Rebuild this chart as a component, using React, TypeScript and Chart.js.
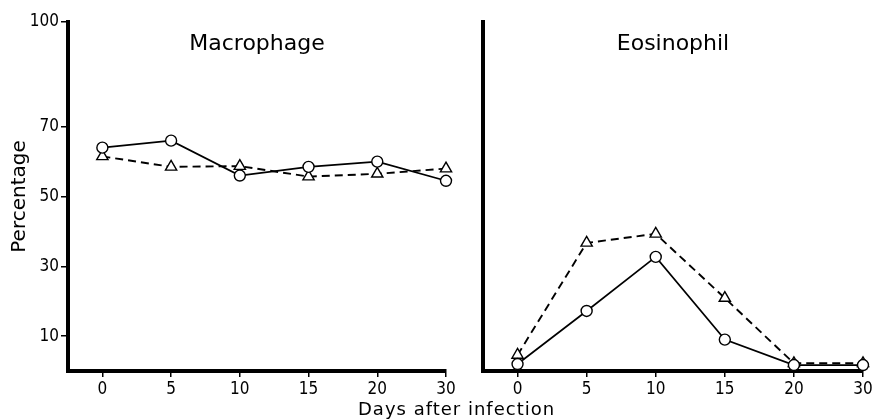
import React, { useEffect, useRef } from "react";
import { Chart, registerables } from "chart.js";

Chart.register(...registerables);

const dayLabels = ["0", "5", "10", "15", "20", "30"];
const yTickValues = [10, 30, 50, 70, 100];

const macrophageCircle = [64, 66, 56, 58.5, 60, 54.5];
const macrophageTriangle = [61.5, 58.5, 58.7, 55.7, 56.5, 58];
const eosinophilCircle = [2, 17.2, 32.7, 9, 1.7, 1.7];
const eosinophilTriangle = [4.6, 36.7, 39.3, 20.9, 2.2, 2.2];

const tickFont = {
  family: "'Liberation Sans Narrow','DejaVu Sans Condensed',sans-serif",
  size: 17,
};
const textFont = "'DejaVu Sans', sans-serif";

const panelTitlePlugin = {
  id: "panelTitle",
  afterDraw(chart: any, _args: any, opts: any) {
    if (!opts || !opts.text) return;
    const { ctx, chartArea } = chart;
    ctx.save();
    ctx.fillStyle = "#000";
    ctx.font = `22px ${textFont}`;
    ctx.textAlign = "center";
    ctx.textBaseline = "middle";
    ctx.fillText(opts.text, (chartArea.left + chartArea.right) / 2, 44);
    ctx.restore();
  },
};

function makeDatasets(circle: number[], triangle: number[]) {
  return [
    {
      label: "circle",
      data: circle.map((v, i) => ({ x: i, y: v })),
      borderColor: "#000",
      borderWidth: 1.7,
      pointStyle: "circle",
      pointRadius: 5.5,
      pointBorderWidth: 1.4,
      pointBackgroundColor: "#fff",
      pointBorderColor: "#000",
      clip: false,
      order: 1,
    },
    {
      label: "triangle",
      data: triangle.map((v, i) => ({ x: i, y: v })),
      borderColor: "#000",
      borderWidth: 1.9,
      borderDash: [8, 5],
      pointStyle: "triangle",
      pointRadius: 6.5,
      pointBorderWidth: 1.4,
      pointBackgroundColor: "#fff",
      pointBorderColor: "#000",
      clip: false,
      order: 2,
    },
  ];
}

function makeConfig(
  title: string,
  circle: number[],
  triangle: number[],
  showY: boolean,
  yWidth: number,
  padRight: number
): any {
  return {
    type: "line",
    data: { datasets: makeDatasets(circle, triangle) },
    plugins: [panelTitlePlugin],
    options: {
      animation: false,
      responsive: false,
      layout: { padding: { left: 0, right: padRight, top: 22, bottom: 0 } },
      plugins: {
        legend: { display: false },
        tooltip: { enabled: false },
        panelTitle: { text: title },
      },
      scales: {
        x: {
          type: "linear",
          min: -0.5,
          max: 5,
          afterBuildTicks: (scale: any) => {
            scale.ticks = dayLabels.map((_, i) => ({ value: i }));
          },
          afterFit: (scale: any) => {
            scale.height = 49;
          },
          ticks: {
            color: "#000",
            font: tickFont,
            padding: 2,
            maxRotation: 0,
            autoSkip: false,
            callback: (v: number) => dayLabels[v] ?? "",
          },
          grid: {
            display: true,
            drawOnChartArea: false,
            drawTicks: true,
            tickLength: 6,
            color: "#000",
            lineWidth: 1.5,
          },
          border: { display: true, color: "#000", width: 4 },
        },
        y: {
          type: "linear",
          min: 0,
          max: 100,
          afterBuildTicks: (scale: any) => {
            scale.ticks = yTickValues.map((v) => ({ value: v }));
          },
          afterFit: (scale: any) => {
            scale.width = yWidth;
          },
          ticks: {
            display: showY,
            color: "#000",
            font: tickFont,
            padding: 2,
          },
          title: {
            display: showY,
            text: "Percentage",
            color: "#000",
            font: { family: textFont, size: 20 },
            padding: 8,
          },
          grid: {
            display: showY,
            drawOnChartArea: false,
            drawTicks: showY,
            tickLength: 7,
            color: "#000",
            lineWidth: 1.5,
          },
          border: { display: true, color: "#000", width: 4 },
        },
      },
    },
  };
}

export default function App() {
  const leftRef = useRef<HTMLCanvasElement>(null);
  const rightRef = useRef<HTMLCanvasElement>(null);

  useEffect(() => {
    const c1 = new Chart(
      leftRef.current!,
      makeConfig("Macrophage", macrophageCircle, macrophageTriangle, true, 68, 14)
    );
    const c2 = new Chart(
      rightRef.current!,
      makeConfig("Eosinophil", eosinophilCircle, eosinophilTriangle, false, 23, 12)
    );
    return () => {
      c1.destroy();
      c2.destroy();
    };
  }, []);

  return (
    <div
      style={{
        position: "absolute",
        left: 0,
        top: 0,
        width: 875,
        height: 420,
        background: "#fff",
        overflow: "hidden",
      }}
    >
      <canvas
        ref={leftRef}
        width={460}
        height={420}
        style={{ position: "absolute", left: 0, top: 0, width: 460, height: 420 }}
      />
      <canvas
        ref={rightRef}
        width={415}
        height={420}
        style={{ position: "absolute", left: 460, top: 0, width: 415, height: 420 }}
      />
      <div
        style={{
          position: "absolute",
          left: 358,
          top: 399,
          width: 205,
          fontFamily: textFont,
          fontSize: 18,
          letterSpacing: "1px",
          lineHeight: "20px",
          color: "#000",
          whiteSpace: "nowrap",
        }}
      >
        Days after infection
      </div>
    </div>
  );
}
